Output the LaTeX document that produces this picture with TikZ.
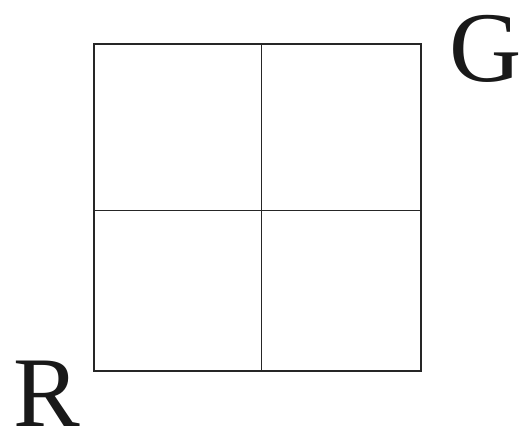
\documentclass[tikz,border=0pt]{standalone}
\usepackage{fontspec}
\setmainfont{Liberation Serif}
\begin{document}
\begin{tikzpicture}[x=1pt,y=1pt,
  gridline/.style={line width=1.5pt,draw=black!85},
  biglabel/.style={inner sep=0pt,font=\fontsize{100}{100}\selectfont,text=black!90}]
\useasboundingbox (0,0) rectangle (523,441);
\coordinate (tl) at (94,397);
\coordinate (br) at (421,70);
\coordinate (c) at (261.5,230.5);
\draw[gridline] (tl) rectangle (br);
\draw[gridline] (c |- tl) -- (c |- br);
\draw[gridline] (c -| tl) -- (c -| br);
\node[biglabel] (G) at (486,392) {G};
\node[biglabel] (R) at (47,47) {R};
\end{tikzpicture}
\end{document}
